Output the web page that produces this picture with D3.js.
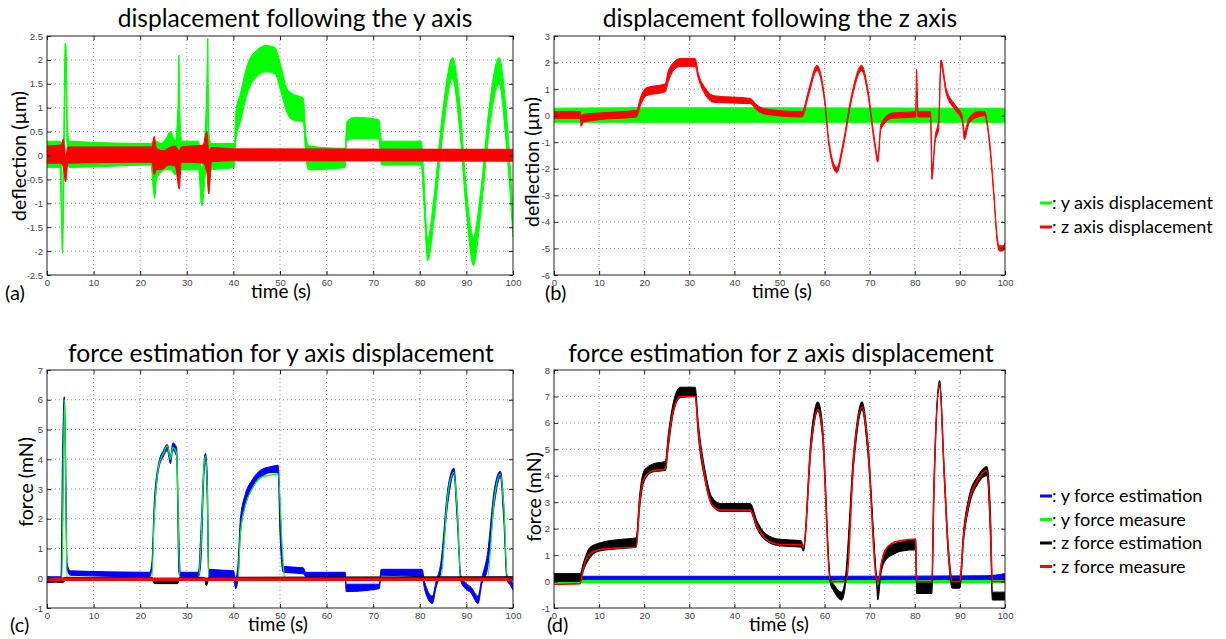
<!DOCTYPE html>
<html><head><meta charset="utf-8">
<script src="https://cdn.jsdelivr.net/npm/d3@7"></script>
<style>body{margin:0;background:#fff} svg{display:block}</style>
</head><body><svg id="c" width="1226" height="639"></svg>
<script>
// ---------- shared ticks ----------
const timeTicks = [0,10,20,30,40,50,60,70,80,90,100];
const ticksA = [-2.5,-2,-1.5,-1,-0.5,0,0.5,1,1.5,2,2.5];
const ticksB = [-6,-5,-4,-3,-2,-1,0,1,2,3];
const ticksC = [-1,0,1,2,3,4,5,6,7];
const ticksD = [-1,0,1,2,3,4,5,6,7,8];

// ---------- (a) displacement following the y axis ----------
const aGreenT  = [0,2.8,3.1,3.3,3.6,3.9,4.1,4.4,4.8,22.3,22.8,23.1,23.5,24.5,25.5,26.5,27.5,28.1,28.3,28.5,28.9,32.5,33.2,33.8,34.3,34.5,34.7,35.2,40.2,40.5,41.5,43,45,47,49,50,51.5,52.5,55,55.6,56.2,64,64.3,66,71.2,71.8,80.3,80.8,81.7,83,85,87,88.5,90,91.5,93,95,97,98.5,100];
const aGreenLo = [-0.25,-0.25,-1.4,-2.05,-0.8,1.5,1.3,-0.2,-0.25,-0.2,-0.7,-0.9,-0.5,-0.35,-0.3,-0.3,-0.4,-0.2,0.5,-0.4,-0.3,-0.3,-1.05,-0.6,0.2,1.5,-0.8,-0.3,-0.25,0.3,0.7,1.3,1.65,1.75,1.7,1.4,0.9,0.75,0.7,-0.1,-0.3,-0.25,0.3,0.35,0.35,-0.2,-0.2,-0.9,-2.2,-1.4,0.5,1.6,0.6,-1.2,-2.3,-1.3,0.6,1.5,0.3,-1.7];
const aGreenHi = [0.3,0.3,0.2,-1.6,0.5,2.35,2.25,0.6,0.3,0.25,0.3,-0.1,0.3,0.25,0.35,0.5,0.3,1.0,2.1,1.0,0.3,0.3,-0.3,0.3,1.5,2.45,0.5,0.25,0.25,0.9,1.3,1.9,2.2,2.3,2.25,1.95,1.4,1.3,1.2,0.4,0.2,0.15,0.7,0.8,0.75,0.3,0.3,-0.3,-1.75,-0.9,1.0,2.05,1.2,-0.7,-1.7,-0.8,1.1,2.05,1.0,-1.2];
const aRedT  = [0,3,3.5,4.0,4.5,22.5,23,23.5,25,26,27.5,28.4,28.8,33.5,34.3,34.7,35.3,40,100];
const aRedLo = [-0.16,-0.16,-0.25,-0.55,-0.16,-0.14,-0.4,-0.3,-0.28,-0.2,-0.22,-0.7,-0.14,-0.16,-0.35,-0.8,-0.13,-0.11,-0.12];
const aRedHi = [0.2,0.22,0.35,0.0,0.18,0.18,0.4,0.15,0.1,0.15,0.2,0.1,0.18,0.22,0.5,0.1,0.17,0.14,0.13];

// ---------- (b) displacement following the z axis ----------
const bGreenT  = [0,18.5,100];
const bGreenLo = [-0.25,-0.25,-0.25];
const bGreenHi = [0.28,0.3,0.28];
const bRedT  = [0,5.8,6.0,6.5,10,18.3,19.2,20.5,24.7,25.2,26.5,28,31.3,32,33.5,35.5,43.5,45,47,55,56.5,58.3,60,61,62.7,64,66,68.2,69.5,71,71.8,72.5,75,80.2,80.4,80.7,83.5,83.8,84.5,85.3,85.8,87,89,90.5,91,92,94,95.5,96.5,97.5,98.3,98.8,99.5,100];
const bRedLo = [-0.1,-0.1,-0.4,-0.25,-0.15,-0.05,0.4,0.75,0.9,1.2,1.7,1.85,1.85,1.4,0.8,0.5,0.45,0.2,0.05,-0.05,0.8,1.7,0.5,-1.2,-2.15,-1.3,0.6,1.7,0.9,-1.0,-1.75,-0.5,-0.1,-0.05,1.0,-0.05,-0.05,-2.4,-1.0,-0.5,1.9,0.8,0.2,-0.2,-0.9,-0.3,-0.05,0.0,-1.0,-3.0,-4.8,-5.1,-5.1,-5.0];
const bRedHi = [0.15,0.15,0.0,0.05,0.1,0.2,0.7,1.05,1.2,1.6,2.0,2.15,2.15,1.6,1.05,0.75,0.65,0.4,0.25,0.15,1.0,1.9,0.7,-1.0,-1.95,-1.1,0.8,1.9,1.1,-0.8,-1.55,-0.3,0.1,0.15,1.75,0.15,0.15,-2.0,-0.8,-0.1,2.1,1.0,0.4,0.0,-0.6,-0.1,0.15,0.15,-0.8,-2.8,-4.6,-4.9,-4.9,-4.8];

// ---------- (c) force estimation for y axis displacement ----------
const cBlueT  = [0,3.0,3.3,3.7,4.0,4.3,5,22,22.5,23,24,25,25.8,26.5,27,27.8,28.3,28.6,32.5,33,33.7,34,34.4,34.7,40,40.5,41,41.5,42.5,44,46,48,49.6,50,50.7,55,55.5,64,64.2,71.3,71.7,80.5,81,82.7,83.5,84.5,86,87.3,88,88.8,89.5,91,92.5,93.3,94.5,96,97.3,98,98.7,99.5,100];
const cBlueLo = [-0.15,-0.1,1.5,5.8,3.0,0.3,0.1,0.05,0.3,2.0,3.7,4.1,4.3,3.85,4.3,4.1,0.2,0.05,0.05,0.5,3.5,4.0,2.5,0.05,0.05,-0.35,0.0,1.5,2.4,3.0,3.4,3.55,3.55,1.5,0.2,0.15,0.05,0.05,-0.45,-0.35,0.1,0.05,-0.35,-0.85,-0.3,0.2,2.5,3.5,2.0,-0.1,-0.3,-0.5,-0.85,-0.2,0.3,2.5,3.4,2.0,-0.05,-0.25,-0.4];
const cBlueHi = [0.05,0.05,3.8,6.1,4.2,0.5,0.25,0.2,0.5,2.5,3.9,4.3,4.5,4.1,4.55,4.4,1.5,0.2,0.2,1.5,3.9,4.2,3.5,0.3,0.25,0.0,0.5,2.0,2.8,3.3,3.65,3.75,3.8,2.5,0.4,0.35,0.2,0.2,-0.2,-0.2,0.3,0.3,-0.1,-0.6,-0.1,0.5,3.0,3.7,2.5,0.1,-0.1,-0.3,-0.6,0.0,0.8,3.0,3.6,2.5,0.1,-0.05,-0.2];
const cGreenT = [0,3.2,3.5,3.8,4.0,4.3,22.5,23,24,25,25.8,26.5,27,27.8,28.5,32.5,33,33.7,34,34.4,34.7,41,41.5,42.5,44,46,47.5,49.6,50.5,51,84.5,86,87.3,88,88.8,94.5,96,97.3,98,98.8,100];
const cGreenV = [0,0,3.7,6.0,3.5,0,0,2.0,3.8,4.2,4.45,4.0,4.4,4.2,0,0,1.0,3.8,4.1,3.0,0,0,1.5,2.4,3.0,3.4,3.45,3.5,1.0,0,0,2.8,3.55,2.4,0,0,2.7,3.5,2.5,0,0];
const cBlackT  = [0,3.3,4.3,22.5,23,28,28.5,33.8,34.2,34.7,100];
const cBlackLo = [-0.04,-0.15,-0.05,-0.05,-0.18,-0.18,-0.05,-0.05,-0.25,-0.05,-0.04];
const cBlackHi = [0.04,0.0,0.03,0.03,-0.05,-0.05,0.03,0.03,-0.05,0.03,0.05];
const cRedT = [0,100];
const cRedV = [-0.03,-0.03];

// ---------- (d) force estimation for z axis displacement ----------
const dBlackT  = [0,5.8,6.5,8,10,15,18.2,19,20,22,24.7,25.3,26.5,28,31.3,32,33.5,35,37,43.5,45,47,50,54.8,55.3,57,58.5,59.5,61.3,62,63.8,64.5,66.5,68.3,69.5,71.5,71.8,72.5,73.5,75,77,80.2,80.4,83.8,84.2,85.5,86.5,87.5,88.3,90,90.8,92,94,96,96.8,97.2,100];
const dBlackLo = [0.0,0.0,0.4,0.9,1.15,1.25,1.3,2.8,3.8,4.15,4.2,5.0,6.4,6.95,7.0,5.5,3.8,2.9,2.65,2.65,2.0,1.55,1.35,1.3,1.15,5.0,6.45,5.5,-0.1,-0.35,-0.7,-0.3,4.5,6.5,5.0,0.0,-0.7,0.3,0.8,1.0,1.15,1.2,-0.45,-0.45,3.0,7.4,4.0,0.8,-0.25,-0.25,1.5,2.8,3.7,4.0,1.5,-0.7,-0.7];
const dBlackHi = [0.3,0.3,0.7,1.3,1.45,1.6,1.65,3.3,4.2,4.45,4.55,5.5,6.8,7.35,7.35,6.0,4.2,3.2,2.95,2.95,2.3,1.8,1.6,1.55,1.3,5.5,6.8,6.0,0.1,-0.1,-0.4,0.0,5.0,6.8,5.5,0.2,-0.3,0.6,1.2,1.4,1.5,1.6,-0.05,-0.05,3.4,7.6,4.3,1.2,0.1,0.1,1.9,3.2,4.0,4.35,2.5,-0.4,-0.4];
const dRedT = [0,5.8,6.5,8,10,15,18.2,19,20,22,24.7,25.3,26.5,28,31.3,32,33.5,35,37,43.5,45,47,50,54.8,55.3,57,58.5,59.5,61.3,64.8,66.5,68.3,69.5,71.5,72,72.5,73.5,75,77,80.2,80.4,83.8,84.2,85.5,86.5,87.5,88.3,90,90.8,92,94,96,96.8,97.2,100];
const dRedV = [-0.1,-0.08,0.5,1.05,1.2,1.28,1.3,3.0,3.9,4.2,4.25,5.2,6.5,7.0,7.0,5.7,3.9,2.9,2.7,2.7,2.1,1.6,1.4,1.4,1.3,5.2,6.5,5.7,0.0,0.0,4.8,6.6,5.3,0.1,0.0,0.6,1.2,1.45,1.55,1.6,0.0,0.0,3.2,7.5,4.2,1.0,0.0,0.0,1.7,3.0,3.85,4.2,2.0,0.0,0.0];
const dBlueT  = [0,60,96,100];
const dBlueLo = [0.04,0.05,0.06,0.08];
const dBlueHi = [0.2,0.2,0.22,0.3];
const dGreenT  = [0,100];
const dGreenLo = [-0.05,-0.05];
const dGreenHi = [0.04,0.04];

// ---------- legend ----------
const legendTop = [[": y axis displacement","#00ff00"],[": z axis displacement","#ff0000"]];
const legendBottom = [[": y force estimation","#0000ff"],[": y force measure","#00ff00"],[": z force estimation","#000000"],[": z force measure","#ff0000"]];

const zip3 = (t,lo,hi) => t.map((v,i)=>({t:v,lo:lo[i],hi:hi[i]}));
const zip2 = (t,v) => t.map((x,i)=>({t:x,v:v[i]}));

const svg = d3.select("#c");
const FONT = "Lato, 'Open Sans', sans-serif";
const TICKFONT = "'Liberation Sans', Arial, sans-serif";
let clipId = 0;

function panel(o){
  const x = d3.scaleLinear().domain([0,100]).range([o.x0,o.x1]);
  const y = d3.scaleLinear().domain([o.yt[0], o.yt[o.yt.length-1]]).range([o.y1,o.y0]);
  const g = svg.append("g");
  // grid
  const grid = g.append("g").attr("stroke","#000").attr("stroke-width",0.8).attr("stroke-dasharray","1,3").attr("opacity",0.55);
  grid.selectAll(".gx").data(timeTicks.slice(1,-1)).join("line")
    .attr("x1",d=>x(d)).attr("x2",d=>x(d)).attr("y1",o.y0).attr("y2",o.y1);
  grid.selectAll(".gy").data(o.yt.slice(1,-1)).join("line")
    .attr("y1",d=>y(d)).attr("y2",d=>y(d)).attr("x1",o.x0).attr("x2",o.x1);
  // data
  const id = "clip"+(clipId++);
  svg.append("clipPath").attr("id",id).append("rect")
    .attr("x",o.x0).attr("y",o.y0).attr("width",o.x1-o.x0).attr("height",o.y1-o.y0);
  const dg = g.append("g").attr("clip-path",`url(#${id})`);
  o.series.forEach(s=>{
    if(s.band){
      const area = d3.area().curve(d3.curveMonotoneX).x(d=>x(d.t)).y0(d=>y(d.lo)).y1(d=>y(d.hi));
      dg.append("path").attr("d",area(s.band)).attr("fill",s.color)
        .attr("stroke",s.color).attr("stroke-width",s.sw||1).attr("stroke-linejoin","round");
    } else {
      const line = d3.line().curve(d3.curveMonotoneX).x(d=>x(d.t)).y(d=>y(d.v));
      dg.append("path").attr("d",line(s.line)).attr("fill","none")
        .attr("stroke",s.color).attr("stroke-width",s.sw||1.2).attr("stroke-linejoin","round");
    }
  });
  // axes
  const ax = (gen, tr) => {
    const a = g.append("g").attr("transform",tr).call(gen);
    a.select(".domain").remove();
    a.selectAll("line").attr("stroke","#222");
    a.selectAll("text").attr("font-family",TICKFONT).attr("font-size",9.5).attr("fill","#444");
    return a;
  };
  ax(d3.axisBottom(x).tickValues(timeTicks).tickSize(-4).tickPadding(4).tickFormat(d3.format("d")), `translate(0,${o.y1})`);
  ax(d3.axisTop(x).tickValues(timeTicks).tickSize(-4).tickFormat(""), `translate(0,${o.y0})`);
  ax(d3.axisLeft(y).tickValues(o.yt).tickSize(-4).tickPadding(4).tickFormat(d=>String(d)), `translate(${o.x0},0)`);
  ax(d3.axisRight(y).tickValues(o.yt).tickSize(-4).tickFormat(""), `translate(${o.x1},0)`);
  g.append("rect").attr("x",o.x0).attr("y",o.y0).attr("width",o.x1-o.x0).attr("height",o.y1-o.y0)
    .attr("fill","none").attr("stroke","#222").attr("stroke-width",1);
  // texts
  g.append("text").attr("x",o.tx).attr("y",o.ty).attr("text-anchor","middle")
    .attr("font-family",FONT).attr("font-size",24.6).attr("fill","#000").text(o.title);
  g.append("text").attr("transform",`translate(${o.lx},${o.ly}) rotate(-90)`).attr("text-anchor","middle")
    .attr("font-family",FONT).attr("font-size",19.5).attr("fill","#000").text(o.ylabel);
  g.append("text").attr("x",o.xlx).attr("y",o.xly).attr("text-anchor","middle")
    .attr("font-family",FONT).attr("font-size",19).attr("fill","#000").text("time (s)");
  g.append("text").attr("x",o.px).attr("y",o.py)
    .attr("font-family",FONT).attr("font-size",20).attr("fill","#000").text(o.letter);
}

panel({x0:47,x1:513,y0:36,y1:275,yt:ticksA,title:"displacement following the y axis",tx:295,ty:27,
  ylabel:"deflection (µm)",lx:26,ly:156,xlx:281,xly:298,letter:"(a)",px:5,py:300,
  series:[{band:zip3(aGreenT,aGreenLo,aGreenHi),color:"#00ff00"},{band:zip3(aRedT,aRedLo,aRedHi),color:"#ff0000"}]});
panel({x0:554,x1:1005,y0:36,y1:275,yt:ticksB,title:"displacement following the z axis",tx:780,ty:27,
  ylabel:"deflection (µm)",lx:539,ly:162,xlx:782,xly:298,letter:"(b)",px:545,py:300,
  series:[{band:zip3(bGreenT,bGreenLo,bGreenHi),color:"#00ff00"},{band:zip3(bRedT,bRedLo,bRedHi),color:"#ff0000"}]});
panel({x0:47,x1:513,y0:370,y1:608,yt:ticksC,title:"force estimation for y axis displacement",tx:281,ty:362,
  ylabel:"force (mN)",lx:33,ly:482,xlx:278,xly:631,letter:"(c)",px:10,py:632,
  series:[{band:zip3(cBlueT,cBlueLo,cBlueHi),color:"#0000ff"},{line:zip2(cGreenT,cGreenV),color:"#00ff00",sw:1.2},
          {band:zip3(cBlackT,cBlackLo,cBlackHi),color:"#000000"},{line:zip2(cRedT,cRedV),color:"#ff0000",sw:3.5}]});
panel({x0:554,x1:1005,y0:370,y1:608,yt:ticksD,title:"force estimation for z axis displacement",tx:781,ty:362,
  ylabel:"force (mN)",lx:541,ly:497,xlx:779,xly:631,letter:"(d)",px:547,py:632,
  series:[{band:zip3(dBlueT,dBlueLo,dBlueHi),color:"#0000ff"},{band:zip3(dGreenT,dGreenLo,dGreenHi),color:"#00ff00"},
          {band:zip3(dBlackT,dBlackLo,dBlackHi),color:"#000000"},{line:zip2(dRedT,dRedV),color:"#ff0000",sw:1.6}]});

function legend(items, x, y0, dy){
  const g = svg.append("g");
  items.forEach((it,i)=>{
    const y = y0 + i*dy;
    g.append("line").attr("x1",x).attr("x2",x+12).attr("y1",y).attr("y2",y).attr("stroke",it[1]).attr("stroke-width",3);
    g.append("text").attr("x",x+12).attr("y",y+6).attr("font-family",FONT).attr("font-size",18).attr("fill","#000").text(it[0]);
  });
}
legend(legendTop, 1040, 203, 24);
legend(legendBottom, 1040, 496, 23.5);
</script></body></html>
